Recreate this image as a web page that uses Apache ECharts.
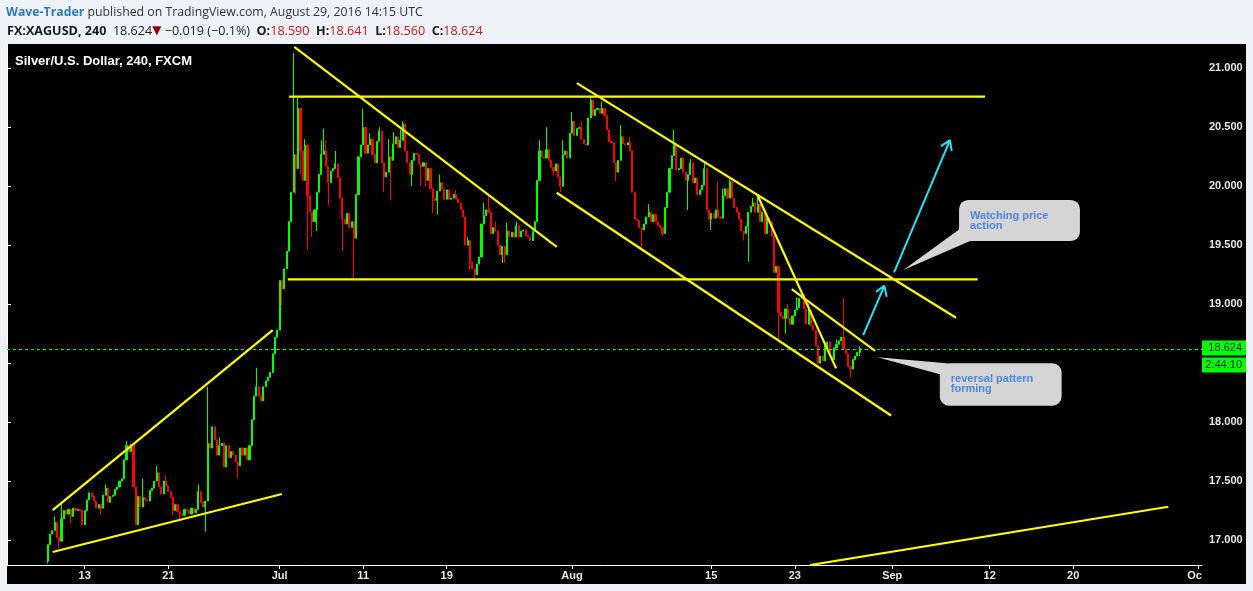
<!DOCTYPE html>
<html>
<head>
<meta charset="utf-8">
<title>Silver/U.S. Dollar, 240, FXCM</title>
<script src="https://cdn.jsdelivr.net/npm/echarts@6.0.0/dist/echarts.min.js"></script>
<style>
html,body{margin:0;padding:0;background:#eff2f6;overflow:hidden;}
#chart{width:1253px;height:591px;}
</style>
</head>
<body>
<div id="chart"></div>
<script>
// ================= DATA =================
// x axis: 4-hour bars, 6 per trading day, first category = 4th bar of Fri 3 Jun 2016
const axisStartDate = [2016, 5, 3];
const axisStartBarOfDay = 3;
const barsPerDay = 6;
const barCount = 515;

// tick labels (first bar of each day)
const tickDays   = ['2016-06-13','2016-06-21','2016-07-01','2016-07-11','2016-07-19','2016-08-01','2016-08-15','2016-08-23','2016-09-01','2016-09-12','2016-09-20','2016-10-03'];
const tickLabels = ['13','21','Jul','11','19','Aug','15','23','Sep','12','20','Oc'];

// price tick values shown on the right axis
const priceTicks = [17.0, 17.5, 18.0, 19.0, 19.5, 20.0, 20.5, 21.0];

// candles: closes per 4h bar (open = previous close), starting at bar 17
const closesStartBar = 17;
const firstOpen = 16.82;
const closes = [
 16.96,17.05,17.08,17.15,                      // Jun 8
 17.02,16.99,17.18,17.25,17.22,17.26,          // Jun 9
 17.20,17.27,17.25,17.26,17.25,17.13,          // Jun 10
 17.25,17.34,17.40,17.37,17.33,17.27,          // Jun 13
 17.30,17.27,17.38,17.44,17.32,17.37,          // Jun 14
 17.38,17.43,17.45,17.50,17.52,17.68,          // Jun 15
 17.80,17.75,17.81,17.45,17.13,17.37,          // Jun 16
 17.28,17.36,17.34,17.33,17.42,17.44,          // Jun 17
 17.50,17.57,17.45,17.39,17.50,17.46,          // Jun 20
 17.41,17.36,17.25,17.30,17.24,17.22,          // Jun 21
 17.21,17.26,17.25,17.22,17.27,17.23,          // Jun 22
 17.26,17.41,17.32,17.28,17.33,17.82,          // Jun 23
 17.78,17.96,17.85,17.72,17.80,17.82,          // Jun 24
 17.62,17.80,17.70,17.75,17.72,17.66,          // Jun 27
 17.63,17.78,17.72,17.78,17.68,17.80,          // Jun 28
 18.02,18.22,18.30,18.22,18.18,18.30,          // Jun 29
 18.35,18.38,18.42,18.58,18.72,18.78,          // Jun 30
 19.20,19.13,19.30,19.45,19.70,19.95,          // Jul 1
 20.27,20.15,20.66,20.30,20.05,20.35,          // Jul 4
 19.92,19.78,19.70,19.80,19.95,20.10,          // Jul 5
 20.27,20.30,20.17,20.03,20.13,20.15,          // Jul 6
 20.19,20.07,19.90,19.72,19.68,19.77,          // Jul 7
 19.65,19.70,19.56,19.93,20.25,20.35,          // Jul 8
 20.50,20.28,20.35,20.40,20.27,20.20,          // Jul 11
 20.38,20.47,20.20,20.08,20.12,20.25,          // Jul 12
 20.22,20.36,20.42,20.33,20.39,20.53,          // Jul 13
 20.30,20.20,20.10,20.22,20.28,20.27,          // Jul 14
 20.19,20.17,20.20,20.05,20.15,19.98,          // Jul 15
 19.90,19.88,19.96,20.03,19.98,19.89,          // Jul 18
 19.97,19.89,19.90,19.93,19.89,19.86,          // Jul 19
 19.80,19.74,19.50,19.54,19.36,19.30,          // Jul 20
 19.25,19.34,19.40,19.68,19.75,19.80,          // Jul 21
 19.78,19.60,19.65,19.62,19.50,19.42,          // Jul 22
 19.49,19.42,19.62,19.57,19.61,19.57,          // Jul 25
 19.67,19.57,19.62,19.63,19.58,19.57,          // Jul 26
 19.54,19.62,19.70,20.05,20.30,20.25,          // Jul 27
 20.24,20.31,20.22,20.16,20.13,20.19,          // Jul 28
 20.08,20.00,20.27,20.30,20.24,20.45,          // Jul 29
 20.55,20.43,20.49,20.50,20.40,20.36,          // Aug 1
 20.35,20.58,20.73,20.60,20.65,20.66,          // Aug 2
 20.62,20.66,20.60,20.48,20.38,20.37,          // Aug 3
 20.20,20.12,20.22,20.42,20.36,20.35,          // Aug 4
 20.37,20.30,19.95,19.72,19.71,19.65,          // Aug 5
 19.63,19.68,19.74,19.78,19.70,19.76,          // Aug 8
 19.70,19.67,19.65,19.60,19.82,19.95,          // Aug 9
 20.15,20.26,20.35,20.14,20.15,20.24,          // Aug 10
 20.12,20.05,20.10,20.20,20.03,20.07,          // Aug 11
 19.93,19.97,20.01,20.15,19.80,19.72,          // Aug 12
 19.77,19.73,19.80,19.74,19.73,19.92,          // Aug 15
 19.98,19.90,20.04,19.90,19.82,19.78,          // Aug 16
 19.72,19.62,19.60,19.66,19.78,19.83,          // Aug 17
 19.86,19.78,19.85,19.70,19.78,19.60,          // Aug 18
 19.73,19.70,19.58,19.27,19.32,18.93,          // Aug 19
 18.90,18.88,18.96,18.88,18.83,18.90,          // Aug 22
 18.95,18.97,19.05,19.08,18.96,18.83,          // Aug 23
 18.95,18.82,18.78,18.65,18.50,18.56,          // Aug 24
 18.52,18.63,18.68,18.56,18.53,18.63,          // Aug 25
 18.66,18.69,18.72,18.62,18.58,18.47,          // Aug 26
 18.45,18.53,18.56,18.59,18.624                // Aug 29
];

// visible wicks beyond the body: [bar, high, low]
const wicks = [
 [17,null,16.80],[20,17.20,null],[22,null,16.93],[23,17.31,null],[27,null,17.14],[40,null,17.21],[42,17.47,null],
 [51,17.84,null],[58,17.52,null],[64,17.63,null],[68,17.55,null],[71,null,17.21],[74,null,17.17],[82,17.47,null],
 [85,null,17.07],[86,18.30,null],[91,17.87,null],[99,null,17.53],[107,18.46,null],[118,null,18.99],[123,21.13,null],
 [124,null,19.93],[125,20.75,null],[126,null,20.10],[128,20.40,null],[129,null,19.46],[131,null,19.57],[133,null,19.62],
 [135,20.39,null],[136,20.49,null],[137,20.39,null],[138,null,19.84],[141,20.30,null],[144,null,19.45],[149,null,19.22],
 [153,20.66,null],[156,20.45,null],[160,20.50,null],[162,null,19.95],[164,20.40,null],[165,null,19.88],[166,20.46,null],
 [169,20.48,null],[170,20.55,null],[174,null,20.00],[178,null,20.00],[180,null,20.00],[183,null,19.77],[185,null,19.76],
 [186,20.10,null],[193,19.97,null],[198,19.57,null],[199,null,19.29],[201,null,19.20],[205,19.86,null],[207,19.92,null],
 [210,19.70,null],[213,null,19.35],[214,null,19.35],[215,19.69,null],[219,19.70,null],[229,20.39,null],[232,20.50,null],
 [235,null,20.09],[238,null,19.95],[239,20.39,null],[243,20.63,null],[247,20.55,null],[251,20.77,null],[256,20.72,null],
 [262,null,20.04],[264,20.52,null],[268,20.42,null],[273,null,19.48],[276,19.85,null],[282,null,19.58],[287,20.48,null],
 [293,null,19.80],[294,20.23,null],[300,20.20,null],[303,null,19.63],[306,20.04,null],[308,19.98,null],[311,20.06,null],
 [317,null,19.54],[319,null,19.36],[321,19.90,null],[323,19.93,null],[332,null,18.70],[335,null,18.75],[336,19.00,null],
 [340,19.06,null],[342,19.10,null],[345,19.00,null],[352,18.66,null],[357,18.70,null],[360,19.05,null],[363,null,18.38],
 [367,18.641,18.56]
];

const lastPrice = 18.624;
const countdownText = '2:44:10';

// drawn trend lines: [[barPos, price], [barPos, price]]
const trendLines = [
 [[19.7, 16.898], [118.5, 17.390]],
 [[19.7, 17.254], [114.5, 18.781]],
 [[123.8, 21.183], [236.9, 19.487]],
 [[121.6, 20.760], [421.5, 20.760]],
 [[121.0, 19.210], [418.3, 19.210]],
 [[245.6, 20.875], [409.0, 18.885]],
 [[236.9, 19.945], [381.0, 18.056]],
 [[323.3, 19.931], [357.3, 18.456]],
 [[338.2, 19.128], [374.1, 18.605]],
 [[346.1, 16.788], [500.5, 17.282]]
];

// arrows: tail, tip, head-left, tip, head-right
const arrows = [
 [[382.3, 19.270], [406.4, 20.392], [402.5, 20.341], [406.4, 20.392], [407.1, 20.301]],
 [[369.0, 18.738], [378.1, 19.156], [374.5, 19.105], [378.1, 19.156], [379.1, 19.063]]
];

// callout notes
const calloutTexts = ['Watching price\naction', 'reversal pattern\nforming'];
const calloutTips  = [[386.3, 19.29], [375.1, 18.55]];
const calloutBoxes = [[410.3, 19.884, 462.4, 19.536], [402.0, 18.499, 454.5, 18.139]];

const yMin = 16.788, yMax = 21.207;

// ================= BUILD =================
function buildCategories() {
  const out = [];
  const d = new Date(Date.UTC(axisStartDate[0], axisStartDate[1], axisStartDate[2]));
  let k = axisStartBarOfDay;
  while (out.length < barCount) {
    const dow = d.getUTCDay();
    if (dow !== 0 && dow !== 6) {
      const key = d.toISOString().slice(0, 10);
      for (; k < barsPerDay && out.length < barCount; k++) out.push(key + '#' + k);
      k = 0;
    }
    d.setUTCDate(d.getUTCDate() + 1);
  }
  return out;
}
const categories = buildCategories();
const tickMap = new Map(tickDays.map((d, i) => [d + '#0', tickLabels[i]]));

const wickMap = new Map(wicks.map(w => [w[0], w]));
const candleData = categories.map((c, i) => {
  const k = i - closesStartBar;
  if (k < 0 || k >= closes.length) return ['-', '-', '-', '-'];
  const open = k === 0 ? firstOpen : closes[k - 1];
  const close = closes[k];
  let hi = Math.max(open, close), lo = Math.min(open, close);
  const w = wickMap.get(i);
  if (w) {
    if (w[1] != null) hi = Math.max(hi, w[1]);
    if (w[2] != null) lo = Math.min(lo, w[2]);
  }
  return [open, close, lo, hi];
});

const FONT = '"Liberation Sans", Arial, sans-serif';
const UP = '#00ff00', DOWN = '#ff0000';

const series = [{
  type: 'candlestick',
  xAxisIndex: 0, yAxisIndex: 0,
  data: candleData,
  barWidth: 1.6,
  silent: true,
  z: 2,
  itemStyle: { color: UP, color0: DOWN, borderColor: UP, borderColor0: DOWN, borderWidth: 1 },
  markLine: {
    silent: true, symbol: 'none', animation: false,
    label: { show: false },
    lineStyle: { color: '#00ff00', type: [3, 3], width: 1, opacity: 1 },
    data: [{ yAxis: lastPrice }]
  }
}];
trendLines.forEach(seg => series.push({
  type: 'line', xAxisIndex: 1, yAxisIndex: 0, data: seg,
  symbol: 'none', showSymbol: false, silent: true, z: 5,
  lineStyle: { color: '#ffff00', width: 2.2 }
}));
arrows.forEach(seg => series.push({
  type: 'line', xAxisIndex: 1, yAxisIndex: 0, data: seg,
  symbol: 'none', showSymbol: false, silent: true, z: 6,
  lineStyle: { color: '#1fe6f2', width: 2 }
}));

const option = {
  animation: false,
  backgroundColor: 'transparent',
  grid: { left: 7, top: 44, width: 1195, height: 521, containLabel: false, outerBoundsMode: 'none', show: false },
  xAxis: [{
    type: 'category', data: categories, boundaryGap: true,
    axisLine: { show: true, lineStyle: { color: '#ffffff', width: 1 } },
    axisTick: { show: true, alignWithLabel: true, length: 4, lineStyle: { color: '#ffffff' },
                interval: (idx, val) => tickMap.has(val) },
    axisLabel: {
      show: true, interval: (idx, val) => tickMap.has(val),
      formatter: val => { const t = tickMap.get(val) || ''; return t === 'Oc' ? '{oc|Oc}' : t; },
      color: '#e8e8e8', fontSize: 11, fontWeight: 'bold', fontFamily: FONT, margin: 5,
      rich: { oc: { color: '#e8e8e8', fontSize: 11, fontWeight: 'bold', fontFamily: FONT, padding: [0, 8, 0, 0] } }
    },
    splitLine: { show: false }
  }, {
    type: 'value', min: 0, max: barCount, show: false, splitLine: { show: false }
  }],
  yAxis: [{
    type: 'value', position: 'right', min: yMin, max: yMax, splitNumber: 9, scale: true,
    axisLine: { show: true, lineStyle: { color: '#ffffff', width: 1 } },
    axisTick: { show: true, length: 4, lineStyle: { color: '#ffffff' } },
    axisLabel: {
      show: true, showMinLabel: false, showMaxLabel: false, margin: 7,
      color: '#e8e8e8', fontSize: 11, fontWeight: 'bold', fontFamily: FONT,
      formatter: v => priceTicks.some(t => Math.abs(t - v) < 1e-6) ? v.toFixed(3) : ''
    },
    splitLine: { show: false }
  }],
  series
};

const chart = echarts.init(document.getElementById('chart'), null, { renderer: 'canvas', width: 1253, height: 591 });
chart.setOption(option);

const toPx = p => chart.convertToPixel({ seriesIndex: 1 }, p);

const graphics = [];
// black chart panel
graphics.push({ type: 'rect', id: 'panel', z: -10, silent: true,
  shape: { x: 7, y: 44, width: 1239, height: 540 }, style: { fill: '#000000' } });
// header rows
graphics.push({ type: 'text', id: 'hdr1', x: 6, y: 12, silent: true, style: {
  text: '{a|Wave-Trader} published on TradingView.com, August 29, 2016 14:15 UTC',
  font: '12.3px "Open Sans", sans-serif', fill: '#333333', verticalAlign: 'middle',
  rich: { a: { fill: '#2b7bbf', fontWeight: 'bold', fontSize: 12.3, fontFamily: 'Open Sans' } } } });
graphics.push({ type: 'text', id: 'hdr2', x: 7, y: 31, silent: true, style: {
  text: '{b|FX:XAGUSD, 240}  18.624{d|▼} \u2212' + '0.019 (\u2212' + '0.1%)  {b|O:}{r|18.590}  {b|H:}{r|18.641}  {b|L:}{r|18.560}  {b|C:}{r|18.624}',
  font: '12.6px "Open Sans", sans-serif', fill: '#222222', verticalAlign: 'middle',
  rich: {
    b: { fill: '#1a1a1a', fontWeight: 'bold', fontSize: 12.6, fontFamily: 'Open Sans' },
    r: { fill: '#c41a1a', fontSize: 12.6, fontFamily: 'Open Sans' },
    d: { fill: '#8b0000', fontSize: 12, fontFamily: 'DejaVu Sans' }
  } } });
// panel title
graphics.push({ type: 'text', id: 'title', x: 15, y: 61, silent: true, style: {
  text: 'Silver/U.S. Dollar, 240, FXCM', font: 'bold 13px ' + FONT, fill: '#ffffff', verticalAlign: 'middle' } });

// last price label + countdown
const lp = toPx([0, lastPrice]);
graphics.push({ type: 'rect', id: 'lpBox', z: 20, silent: true,
  shape: { x: 1202, y: lp[1] - 8, width: 44, height: 15 }, style: { fill: '#00ff00' } });
graphics.push({ type: 'text', id: 'lpText', z: 21, silent: true, x: 1242, y: lp[1] - 0.5, style: {
  text: lastPrice.toFixed(3), font: '11px ' + FONT, fill: '#0b2a0b', align: 'right', verticalAlign: 'middle' } });
graphics.push({ type: 'rect', id: 'cdBox', z: 20, silent: true,
  shape: { x: 1202, y: lp[1] + 9, width: 44, height: 15 }, style: { fill: '#00ff00' } });
graphics.push({ type: 'text', id: 'cdText', z: 21, silent: true, x: 1242, y: lp[1] + 16.5, style: {
  text: countdownText, font: '11px ' + FONT, fill: '#0b2a0b', align: 'right', verticalAlign: 'middle' } });

// callouts
calloutTexts.forEach((txt, i) => {
  const tl = toPx([calloutBoxes[i][0], calloutBoxes[i][1]]);
  const br = toPx([calloutBoxes[i][2], calloutBoxes[i][3]]);
  const tip = toPx(calloutTips[i]);
  const w = br[0] - tl[0], h = br[1] - tl[1];
  const base = i === 0
    ? [[tl[0], tl[1] + h * 0.72], [tl[0] + 11, br[1]]]
    : [[tl[0] + 7, tl[1]], [tl[0], tl[1] + 11]];
  graphics.push({ type: 'polygon', id: 'cw' + i, z: 30, silent: true,
    shape: { points: [tip, base[0], [tl[0] + 12, tl[1] + h / 2], base[1]] }, style: { fill: '#d5d5d5' } });
  graphics.push({ type: 'rect', id: 'cb' + i, z: 30, silent: true,
    shape: { x: tl[0], y: tl[1], width: w, height: h, r: 9 }, style: { fill: '#d5d5d5' } });
  graphics.push({ type: 'text', id: 'ct' + i, z: 31, silent: true, x: tl[0] + 11, y: tl[1] + 11, style: {
    text: txt, font: 'bold 11px ' + FONT, fill: '#4f86e0', lineHeight: 10, verticalAlign: 'top' } });
});

chart.setOption({ graphic: graphics });
</script>
</body>
</html>
